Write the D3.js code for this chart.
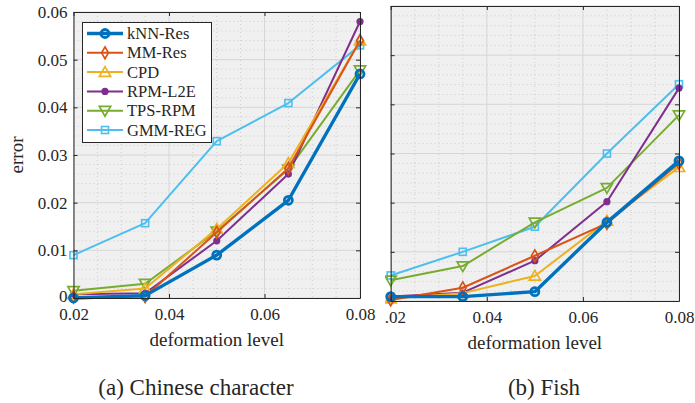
<!DOCTYPE html>
<html>
<head>
<meta charset="utf-8">
<script src="https://cdn.jsdelivr.net/npm/d3@7"></script>
<style>
  body { margin: 0; background: #fff; }
  svg text { font-family: "Liberation Serif", "DejaVu Serif", "Tinos", "FreeSerif", "Nimbus Roman", "Times", "Noto Serif", serif !important; fill: #262626; }
</style>
</head>
<body>
<div id="main"></div>
<script>
// deformation levels on the x axis
var levels = [0.02, 0.035, 0.05, 0.065, 0.08];
var xTicks = [0.02, 0.04, 0.06, 0.08];
var yTicks = [0, 0.01, 0.02, 0.03, 0.04, 0.05, 0.06];

var methods = ["kNN-Res", "MM-Res", "CPD", "RPM-L2E", "TPS-RPM", "GMM-REG"];
var colors = ["#0072BD", "#D95319", "#EDB120", "#7E2F8E", "#77AC30", "#4DBEEE"];
var markers = ["circle", "diamond", "triangle", "dot", "triangleDown", "square"];

// (a) Chinese character
var knnA = [0.0000, 0.0005, 0.0090, 0.0205, 0.0470];
var mmA  = [0.0002, 0.0003, 0.0138, 0.0272, 0.0540];
var cpdA = [0.0008, 0.0020, 0.0145, 0.0283, 0.0540];
var rpmA = [0.0008, 0.0010, 0.0120, 0.0260, 0.0580];
var tpsA = [0.0015, 0.0030, 0.0140, 0.0270, 0.0478];
var gmmA = [0.0090, 0.0157, 0.0329, 0.0409, 0.0530];

// (b) Fish (y labels are cut off in the original, same tick grid)
var knnB = [0.0009, 0.0009, 0.0019, 0.0160, 0.0285];
var mmB  = [0.0002, 0.0027, 0.0092, 0.0158, 0.0280];
var cpdB = [0.0005, 0.0016, 0.0051, 0.0163, 0.0272];
var rpmB = [0.0009, 0.0017, 0.0082, 0.0202, 0.0433];
var tpsB = [0.0042, 0.0071, 0.0160, 0.0230, 0.0378];
var gmmB = [0.0052, 0.0100, 0.0151, 0.0300, 0.0441];

var svg = d3.select("#main").append("svg")
    .attr("width", 695)
    .attr("height", 403);

function drawMarker(g, type, color, x, y) {
  if (type == "circle") {
    g.append("circle").attr("cx", x).attr("cy", y).attr("r", 4)
      .attr("fill", "none").attr("stroke", color).attr("stroke-width", 2.8);
  } else if (type == "dot") {
    g.append("circle").attr("cx", x).attr("cy", y).attr("r", 3.6)
      .attr("fill", color);
  } else if (type == "square") {
    g.append("rect").attr("x", x - 3.5).attr("y", y - 3.5).attr("width", 7).attr("height", 7)
      .attr("fill", "none").attr("stroke", color).attr("stroke-width", 1.6);
  } else {
    var sym = type == "diamond" ? d3.symbolDiamond : d3.symbolTriangle;
    var size = type == "diamond" ? 40 : 55;
    var rot = type == "triangleDown" ? 180 : 0;
    g.append("path").attr("d", d3.symbol().type(sym).size(size)())
      .attr("transform", "translate(" + x + "," + (y + (type == "triangle" ? 1 : type == "triangleDown" ? -1 : 0)) + ") rotate(" + rot + ")")
      .attr("fill", "none").attr("stroke", color).attr("stroke-width", 1.7);
  }
}

function drawPanel(opts) {
  var root = svg.append("g");
  if (opts.clipX != null) {
    svg.append("clipPath").attr("id", opts.id + "clip")
      .append("rect").attr("x", opts.clipX).attr("y", 0).attr("width", 695 - opts.clipX).attr("height", 403);
    root.attr("clip-path", "url(#" + opts.id + "clip)");
  }
  var x = d3.scaleLinear().domain([0.02, 0.08]).range([opts.left, opts.right]);
  var y = d3.scaleLinear().domain([0, 0.06]).range([opts.bottom, opts.top]);

  root.append("rect")
    .attr("x", opts.left).attr("y", opts.top)
    .attr("width", opts.right - opts.left).attr("height", opts.bottom - opts.top)
    .attr("fill", "#f0f0f0");

  // minor grid
  var minorX = d3.range(0.025, 0.08, 0.005).filter(function(d) { return Math.abs(d * 100 - Math.round(d * 50) * 2) > 1e-6; });
  var minorY = d3.range(0.002, 0.06, 0.002).filter(function(d) { return Math.abs(d * 100 - Math.round(d * 100)) > 1e-6; });
  root.selectAll(".mx").data(minorX).enter().append("line")
    .attr("x1", x).attr("x2", x).attr("y1", opts.top).attr("y2", opts.bottom)
    .attr("stroke", "#c4c4c4").attr("stroke-width", 0.8).attr("stroke-dasharray", "1,3");
  root.selectAll(".my").data(minorY).enter().append("line")
    .attr("y1", y).attr("y2", y).attr("x1", opts.left).attr("x2", opts.right)
    .attr("stroke", "#c4c4c4").attr("stroke-width", 0.8).attr("stroke-dasharray", "1,3");
  // major grid
  root.selectAll(".gx").data(xTicks).enter().append("line")
    .attr("x1", x).attr("x2", x).attr("y1", opts.top).attr("y2", opts.bottom)
    .attr("stroke", "#d6d6d6").attr("stroke-width", 1);
  root.selectAll(".gy").data(yTicks).enter().append("line")
    .attr("y1", y).attr("y2", y).attr("x1", opts.left).attr("x2", opts.right)
    .attr("stroke", "#d6d6d6").attr("stroke-width", 1);

  // series
  var line = d3.line().x(function(d, i) { return x(levels[i]); }).y(function(d) { return y(d); });
  var order = [5, 4, 3, 2, 1, 0];
  order.forEach(function(k) {
    var g = root.append("g");
    g.append("path").datum(opts.series[k]).attr("d", line)
      .attr("fill", "none").attr("stroke", colors[k])
      .attr("stroke-width", k == 0 ? 3.4 : 2)
      .attr("stroke-linejoin", "round");
    opts.series[k].forEach(function(v, i) {
      drawMarker(g, markers[k], colors[k], x(levels[i]), y(v));
    });
  });

  // axes
  var fmt = d3.format(".2f");
  var xAxis = root.append("g").attr("transform", "translate(0," + opts.bottom + ")")
    .call(d3.axisBottom(x).tickValues(xTicks).tickSizeInner(-4).tickSizeOuter(0).tickPadding(10).tickFormat(fmt));
  var xTop = root.append("g").attr("transform", "translate(0," + opts.top + ")")
    .call(d3.axisTop(x).tickValues(xTicks).tickSizeInner(-4).tickSizeOuter(0).tickFormat(""));
  var yAxis = root.append("g").attr("transform", "translate(" + opts.left + ",0)")
    .call(d3.axisLeft(y).tickValues(yTicks).tickSizeInner(-4).tickSizeOuter(0).tickPadding(6)
      .tickFormat(function(d) { return d == 0 ? "0" : fmt(d); }));
  var yRight = root.append("g").attr("transform", "translate(" + opts.right + ",0)")
    .call(d3.axisRight(y).tickValues(yTicks).tickSizeInner(-4).tickSizeOuter(0).tickFormat(""));
  [xAxis, xTop, yAxis, yRight].forEach(function(a) {
    a.attr("font-family", null);
    a.selectAll("path").attr("stroke", "#262626").attr("stroke-width", 1);
    a.selectAll("line").attr("stroke", "#262626");
    a.selectAll("text").style("font-size", "17px").attr("fill", "#262626");
  });
  if (!opts.yLabels) yAxis.selectAll("text").remove();
  // keep the "0" label clear of the first x label
  yAxis.selectAll(".tick text").filter(function(d) { return d == 0; }).attr("dy", "0.22em");

  root.append("text").attr("x", (opts.left + opts.right) / 2).attr("y", opts.bottom + 48)
    .attr("text-anchor", "middle").style("font-size", "19px").text("deformation level");
  root.append("text").attr("x", opts.captionX).attr("y", 395)
    .attr("text-anchor", "middle").style("font-size", "23px").text(opts.caption);

  if (opts.legend) {
    var lg = root.append("g");
    lg.append("rect").attr("x", 82.5).attr("y", 22.5).attr("width", 129).attr("height", 120)
      .attr("fill", "#fff").attr("stroke", "#262626").attr("stroke-width", 1);
    methods.forEach(function(m, k) {
      var yy = 33.5 + k * 19.3;
      lg.append("line").attr("x1", 87).attr("x2", 123).attr("y1", yy).attr("y2", yy)
        .attr("stroke", colors[k]).attr("stroke-width", k == 0 ? 3.4 : 2);
      drawMarker(lg, markers[k], colors[k], 105, yy);
      lg.append("text").attr("x", 127).attr("y", yy + 5.5).style("font-size", "16.5px").text(m);
    });
  }
  if (opts.yLabels) {
    root.append("text").attr("transform", "translate(23," + ((opts.top + opts.bottom) / 2) + ") rotate(-90)")
      .attr("text-anchor", "middle").style("font-size", "19px").text("error");
  }
}

drawPanel({
  id: "a", left: 73.5, right: 360, top: 12, bottom: 298,
  series: [knnA, mmA, cpdA, rpmA, tpsA, gmmA],
  legend: true, yLabels: true, caption: "(a) Chinese character", captionX: 196
});
drawPanel({
  id: "b", left: 390.7, right: 679, top: 6, bottom: 301, clipX: 385,
  series: [knnB, mmB, cpdB, rpmB, tpsB, gmmB],
  legend: false, yLabels: false, caption: "(b) Fish", captionX: 544
});
</script>
</body>
</html>
